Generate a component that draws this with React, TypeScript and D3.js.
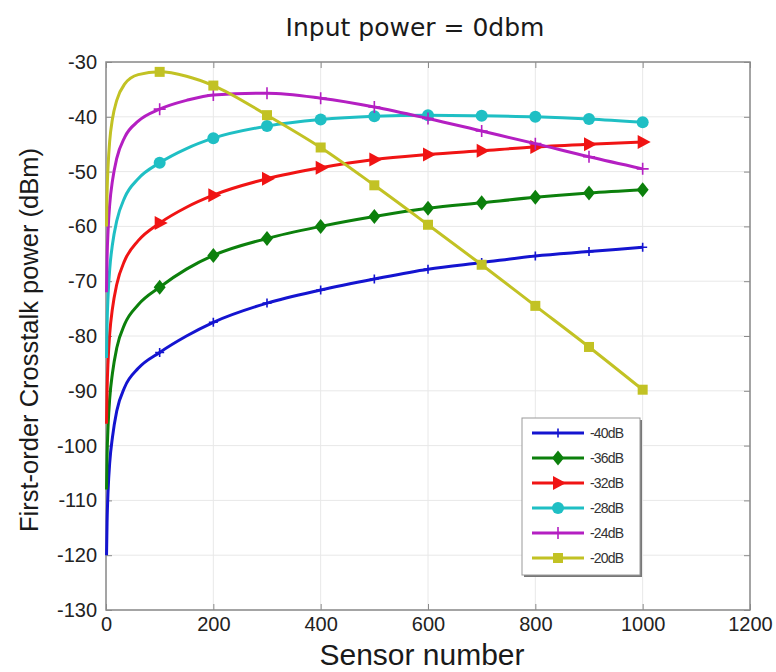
import { useRef, useEffect } from 'react';
import * as d3 from 'd3';

const sensorNumber = [1, 2, 4, 7, 12, 20, 35, 60, 100, 150, 200, 300, 400, 500, 600, 700, 800, 900, 1000];

const crosstalk40 = [-120, -114, -108, -103, -98.5, -93.7, -89.3, -85.9, -83, -80, -77.5, -74, -71.6, -69.6, -67.8, -66.6, -65.4, -64.6, -63.8];
const crosstalk36 = [-108, -102, -96.2, -91.3, -86.8, -82.2, -77.8, -74.3, -71.1, -67.8, -65.3, -62.2, -60, -58.2, -56.7, -55.7, -54.7, -53.9, -53.3];
const crosstalk32 = [-96, -90, -84.3, -79.5, -75, -70.6, -66.2, -62.6, -59.4, -56.5, -54.3, -51.3, -49.3, -47.8, -46.9, -46.2, -45.5, -45, -44.6];
const crosstalk28 = [-84, -78, -72.4, -67.7, -63.3, -59, -54.7, -51.3, -48.4, -45.8, -43.9, -41.7, -40.5, -39.9, -39.7, -39.8, -40, -40.4, -41];
const crosstalk24 = [-72, -66, -60.5, -55.9, -51.7, -47.6, -43.7, -40.8, -38.6, -37, -36, -35.7, -36.6, -38.2, -40.3, -42.6, -44.9, -47.3, -49.5];
const crosstalk20 = [-60, -54, -48.8, -44.3, -40.4, -37, -34, -32.3, -31.8, -32.6, -34.3, -39.7, -45.6, -52.5, -59.7, -67, -74.5, -82, -89.8];

const seriesNames = ['-40dB', '-36dB', '-32dB', '-28dB', '-24dB', '-20dB'];
const seriesValues = [crosstalk40, crosstalk36, crosstalk32, crosstalk28, crosstalk24, crosstalk20];
const seriesColors = ['#1414d0', '#0c800c', '#f01414', '#1fbfc4', '#b41fc2', '#c2c224'];
const seriesMarkers = ['plusSmall', 'diamond', 'triangle', 'circle', 'plus', 'square'];

const xTicks = [0, 200, 400, 600, 800, 1000, 1200];
const yTicks = [-130, -120, -110, -100, -90, -80, -70, -60, -50, -40, -30];

const W = 776;
const H = 672;
const plot = { left: 106, right: 750, top: 62, bottom: 610 };

type Sel = d3.Selection<SVGGElement, unknown, null, undefined>;

function drawMarker(g: Sel, kind: string, cx: number, cy: number, color: string) {
  if (kind === 'circle') {
    g.append('circle').attr('cx', cx).attr('cy', cy).attr('r', 6).attr('fill', color);
  } else if (kind === 'square') {
    g.append('rect').attr('x', cx - 5).attr('y', cy - 5).attr('width', 10).attr('height', 10).attr('fill', color);
  } else if (kind === 'diamond') {
    g.append('path').attr('d', `M${cx},${cy - 7.5}L${cx + 6},${cy}L${cx},${cy + 7.5}L${cx - 6},${cy}Z`).attr('fill', color);
  } else if (kind === 'triangle') {
    g.append('path').attr('d', `M${cx + 8},${cy}L${cx - 5},${cy - 7}L${cx - 5},${cy + 7}Z`).attr('fill', color);
  } else {
    const s = kind === 'plus' ? 6 : 4.5;
    g.append('path')
      .attr('d', `M${cx - s},${cy}L${cx + s},${cy}M${cx},${cy - s}L${cx},${cy + s}`)
      .attr('stroke', color)
      .attr('stroke-width', 1.6)
      .attr('fill', 'none');
  }
}

export default function App() {
  const svgRef = useRef<SVGSVGElement | null>(null);

  useEffect(() => {
    const svg = d3.select(svgRef.current);
    svg.selectAll('*').remove();

    const x = d3.scaleLinear().domain([0, 1200]).range([plot.left, plot.right]);
    const y = d3.scaleLinear().domain([-130, -30]).range([plot.bottom, plot.top]);

    svg.append('rect').attr('width', W).attr('height', H).attr('fill', '#fff');

    // grid
    const grid = svg.append('g').attr('stroke', '#e8e8e8').attr('stroke-width', 1);
    xTicks.forEach(function (t) {
      grid.append('line').attr('x1', x(t)).attr('x2', x(t)).attr('y1', plot.top).attr('y2', plot.bottom);
    });
    yTicks.forEach(function (t) {
      grid.append('line').attr('x1', plot.left).attr('x2', plot.right).attr('y1', y(t)).attr('y2', y(t));
    });

    // axes with inward ticks on all four sides (plain hyphen for negatives, like the original)
    const axisFont = '"Liberation Sans", Arial, sans-serif';
    const plain = function (d: d3.NumberValue) { return String(d); };
    const styleAxis = function (g: Sel) {
      g.select('.domain').remove();
      g.selectAll('line').attr('stroke', '#8a8a8a');
      g.selectAll('text').attr('fill', '#222').attr('font-size', 20).attr('font-family', axisFont);
    };

    svg.append('g')
      .attr('transform', 'translate(0,' + plot.bottom + ')')
      .call(d3.axisBottom(x).tickValues(xTicks).tickSizeInner(-6).tickSizeOuter(0).tickPadding(7).tickFormat(plain))
      .call(styleAxis);
    svg.append('g')
      .attr('transform', 'translate(0,' + plot.top + ')')
      .call(d3.axisTop(x).tickValues(xTicks).tickSizeInner(-6).tickSizeOuter(0).tickFormat(() => ''))
      .call(styleAxis);
    svg.append('g')
      .attr('transform', 'translate(' + plot.left + ',0)')
      .call(d3.axisLeft(y).tickValues(yTicks).tickSizeInner(-6).tickSizeOuter(0).tickPadding(9).tickFormat(plain))
      .call(styleAxis);
    svg.append('g')
      .attr('transform', 'translate(' + plot.right + ',0)')
      .call(d3.axisRight(y).tickValues(yTicks).tickSizeInner(-6).tickSizeOuter(0).tickFormat(() => ''))
      .call(styleAxis);

    svg.append('rect')
      .attr('x', plot.left).attr('y', plot.top)
      .attr('width', plot.right - plot.left).attr('height', plot.bottom - plot.top)
      .attr('fill', 'none').attr('stroke', '#8a8a8a').attr('stroke-width', 1.5);

    // series
    const line = d3.line<number>()
      .x(function (d, i) { return x(sensorNumber[i]); })
      .y(function (d) { return y(d); })
      .curve(d3.curveMonotoneX);

    seriesValues.forEach(function (vals, k) {
      const g = svg.append('g');
      g.append('path')
        .attr('d', line(vals))
        .attr('fill', 'none')
        .attr('stroke', seriesColors[k])
        .attr('stroke-width', 3)
        .attr('stroke-linejoin', 'round');
      vals.forEach(function (v, i) {
        if (sensorNumber[i] % 100 === 0) drawMarker(g, seriesMarkers[k], x(sensorNumber[i]), y(v), seriesColors[k]);
      });
    });

    // legend
    const lg = svg.append('g').attr('transform', 'translate(522,418)');
    lg.append('rect').attr('x', 2).attr('y', 2).attr('width', 118).attr('height', 157).attr('fill', '#777');
    lg.append('rect').attr('width', 118).attr('height', 157).attr('fill', '#fff').attr('stroke', '#999');
    seriesNames.forEach(function (name, k) {
      const ly = 15 + k * 25;
      lg.append('line').attr('x1', 10).attr('x2', 62).attr('y1', ly).attr('y2', ly)
        .attr('stroke', seriesColors[k]).attr('stroke-width', 3);
      drawMarker(lg, seriesMarkers[k], 36, ly, seriesColors[k]);
      lg.append('text').attr('x', 68).attr('y', ly).attr('dy', '0.35em')
        .attr('font-family', axisFont).attr('font-size', 14).attr('letter-spacing', -0.8)
        .attr('fill', '#333').text(name);
    });

    // titles
    svg.append('text')
      .attr('x', (plot.left + plot.right) / 2 - 13).attr('y', 36)
      .attr('text-anchor', 'middle')
      .attr('font-family', '"DejaVu Sans", sans-serif').attr('font-size', 25)
      .attr('fill', '#1a1a1a').text('Input power = 0dbm');
    svg.append('text')
      .attr('x', (plot.left + plot.right) / 2 - 6).attr('y', 665)
      .attr('text-anchor', 'middle')
      .attr('font-family', axisFont).attr('font-size', 30)
      .attr('fill', '#1a1a1a').text('Sensor number');
    svg.append('text')
      .attr('transform', 'translate(38,' + ((plot.top + plot.bottom) / 2 + 4) + ') rotate(-90)')
      .attr('text-anchor', 'middle')
      .attr('font-family', axisFont).attr('font-size', 25.5)
      .attr('fill', '#1a1a1a').text('First-order Crosstalk power (dBm)');
  }, []);

  return (
    <svg
      ref={svgRef}
      width={W}
      height={H}
      style={{ position: 'absolute', left: 0, top: 0, display: 'block' }}
    />
  );
}
